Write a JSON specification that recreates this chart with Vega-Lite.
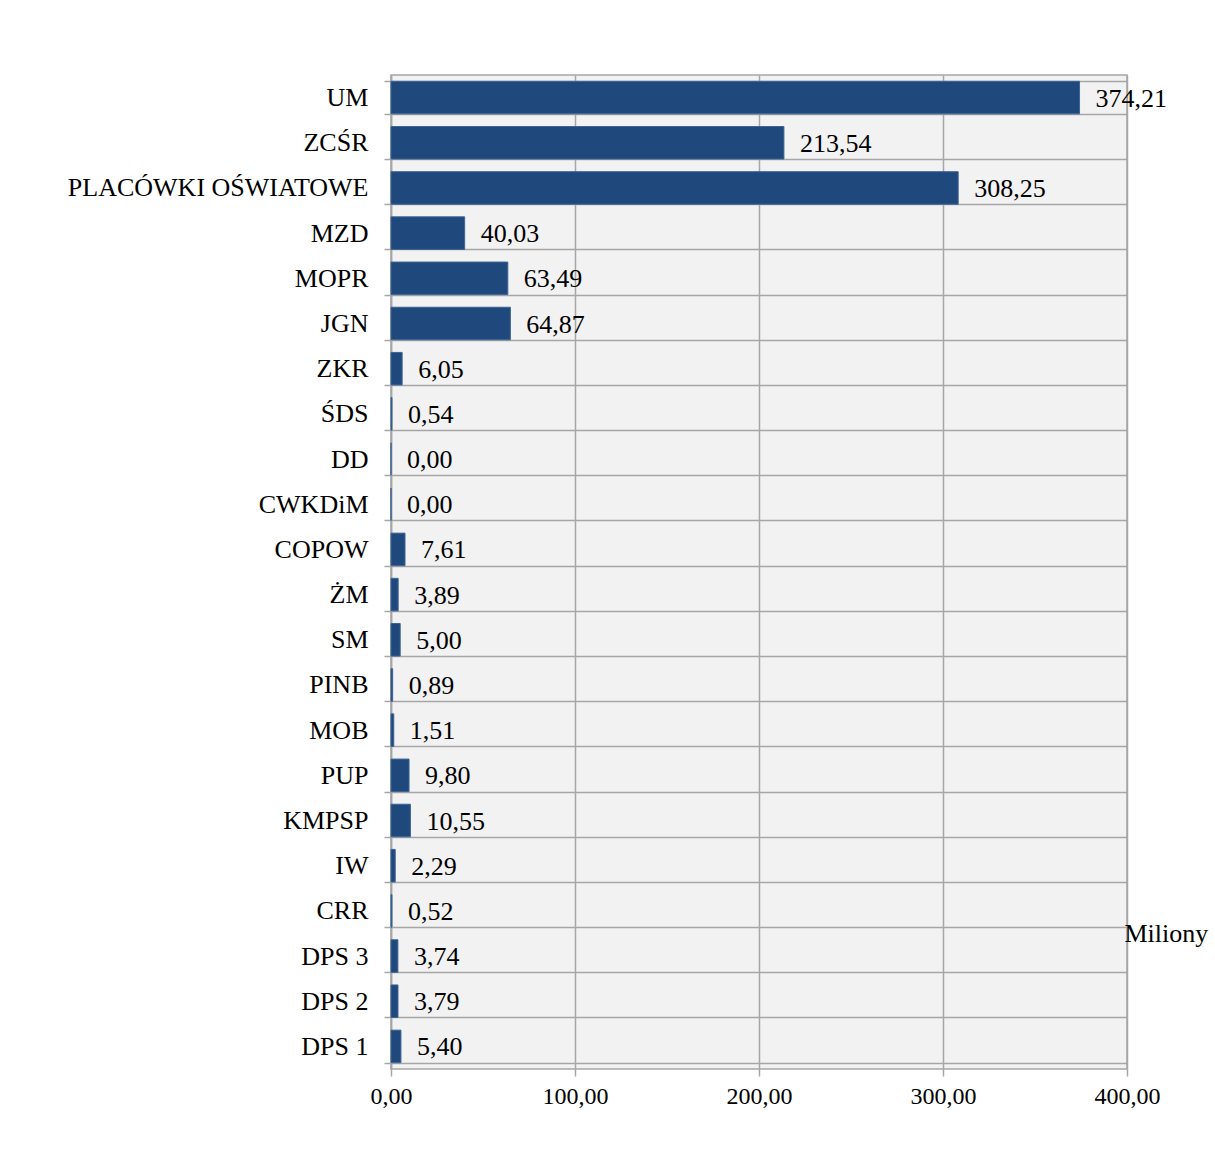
{
  "$schema": "https://vega.github.io/schema/vega-lite/v6.json",
  "width": 736,
  "height": 994,
  "autosize": "none",
  "padding": {"left": 391, "top": 75, "right": 88, "bottom": 103},
  "background": "white",
  "config": {
    "locale": {"number": {"decimal": ",", "thousands": " ", "grouping": [3], "currency": ["", " zł"]}},
    "font": "Liberation Serif",
    "view": {"fill": "#f2f2f2", "stroke": "#a6a6a6", "strokeWidth": 1.5}
  },
  "data": {
    "values": [
      {"jednostka": "UM", "wartosc": 374.21},
      {"jednostka": "ZCŚR", "wartosc": 213.54},
      {"jednostka": "PLACÓWKI OŚWIATOWE", "wartosc": 308.25},
      {"jednostka": "MZD", "wartosc": 40.03},
      {"jednostka": "MOPR", "wartosc": 63.49},
      {"jednostka": "JGN", "wartosc": 64.87},
      {"jednostka": "ZKR", "wartosc": 6.05},
      {"jednostka": "ŚDS", "wartosc": 0.54},
      {"jednostka": "DD", "wartosc": 0.0},
      {"jednostka": "CWKDiM", "wartosc": 0.0},
      {"jednostka": "COPOW", "wartosc": 7.61},
      {"jednostka": "ŻM", "wartosc": 3.89},
      {"jednostka": "SM", "wartosc": 5.0},
      {"jednostka": "PINB", "wartosc": 0.89},
      {"jednostka": "MOB", "wartosc": 1.51},
      {"jednostka": "PUP", "wartosc": 9.8},
      {"jednostka": "KMPSP", "wartosc": 10.55},
      {"jednostka": "IW", "wartosc": 2.29},
      {"jednostka": "CRR", "wartosc": 0.52},
      {"jednostka": "DPS 3", "wartosc": 3.74},
      {"jednostka": "DPS 2", "wartosc": 3.79},
      {"jednostka": "DPS 1", "wartosc": 5.4}
    ]
  },
  "encoding": {
    "y": {
      "field": "jednostka",
      "type": "nominal",
      "sort": null,
      "scale": {"paddingInner": 0.28, "paddingOuter": 0.14},
      "axis": {
        "title": null,
        "tickBand": "extent",
        "grid": true,
        "gridColor": "#a6a6a6",
        "gridWidth": 1.5,
        "domainColor": "#a6a6a6",
        "domainWidth": 1.5,
        "tickColor": "#a6a6a6",
        "tickWidth": 1.5,
        "tickSize": 7,
        "labelPadding": 16,
        "labelFontSize": 26,
        "labelLimit": 0,
        "labelColor": "black",
        "labelFont": "Liberation Serif"
      }
    },
    "x": {
      "field": "wartosc",
      "type": "quantitative",
      "scale": {"domain": [0, 400], "nice": false},
      "axis": {
        "values": [0, 100, 200, 300, 400],
        "format": ".2f",
        "grid": true,
        "gridColor": "#a6a6a6",
        "gridWidth": 1.5,
        "domain": false,
        "tickColor": "#a6a6a6",
        "tickWidth": 1.5,
        "tickSize": 7,
        "labelPadding": 8,
        "labelFontSize": 24,
        "labelFlush": false,
        "labelColor": "black",
        "labelFont": "Liberation Serif",
        "title": "Miliony",
        "titleFont": "Liberation Serif",
        "titleFontSize": 26,
        "titleFontWeight": "normal",
        "titleColor": "black",
        "titleAlign": "left",
        "titleBaseline": "middle",
        "titleAnchor": "start",
        "titleX": 733,
        "titleY": -136
      }
    }
  },
  "layer": [
    {
      "mark": {"type": "bar", "color": "#1f497d", "stroke": "#3c6494", "strokeWidth": 1}
    },
    {
      "mark": {"type": "text", "align": "left", "baseline": "middle", "dx": 16, "dy": 1, "fontSize": 26, "color": "black", "font": "Liberation Serif"},
      "encoding": {
        "text": {"field": "wartosc", "type": "quantitative", "format": ".2f"}
      }
    }
  ]
}
